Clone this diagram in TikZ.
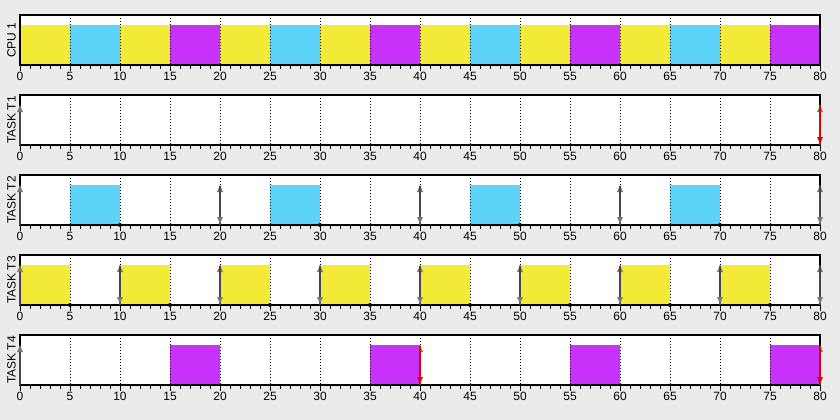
\documentclass[tikz,border=0pt]{standalone}
\usepackage{fontspec}
\setmainfont{Liberation Sans}
\usetikzlibrary{arrows.meta}
\definecolor{bg}{RGB}{235,235,235}
\definecolor{ty}{RGB}{242,234,54}
\definecolor{tb}{RGB}{94,211,250}
\definecolor{tp}{RGB}{200,50,250}
\definecolor{arrline}{RGB}{70,70,70}
\definecolor{arrhead}{RGB}{120,120,120}
\definecolor{miss}{RGB}{225,0,0}
\tikzset{
  panel/.style={draw=black,line width=1.2pt},
  gridline/.style={black,line width=0.9pt,dash pattern=on 1pt off 2pt},
  tickline/.style={black,line width=0.9pt},
  ticklabel/.style={font=\fontsize{12}{12}\selectfont,inner sep=0pt},
  rowlabel/.style={font=\fontsize{12}{12}\selectfont,rotate=90,inner sep=0pt},
  relarrow/.style={arrline,line width=1.8pt,-{Latex[length=8pt,width=6.5pt,color=arrhead]}},
  dlarrow/.style={arrline,line width=1.8pt,-{Latex[length=8pt,width=6.5pt,color=arrhead]}},
  missarrow/.style={miss,line width=1.8pt,-{Latex[length=8pt,width=6.5pt,color=miss]}},
  donedot/.style={fill=black},
}
\begin{document}
\begin{tikzpicture}[x=1pt,y=-1pt]
\fill[bg] (0,0) rectangle (840,420);
\useasboundingbox (0,0) rectangle (840,420);
% panels
\foreach \k/\lab in {0/CPU 1,1/TASK T1,2/TASK T2,3/TASK T3,4/TASK T4}{
  \pgfmathsetmacro\ptop{15+80*\k}
  \pgfmathsetmacro\pbot{65+80*\k}
  \fill[white] (20,\ptop) rectangle (820,\pbot);
  \node[rowlabel] (lab\k) at (11.5,{40+80*\k}) {\lab};
}
% CPU bars
\foreach \j in {0,1,2,3}{
  \fill[ty] ({20+200*\j},25) rectangle ({70+200*\j},65);
  \fill[tb] ({70+200*\j},25) rectangle ({120+200*\j},65);
  \fill[ty] ({120+200*\j},25) rectangle ({170+200*\j},65);
  \fill[tp] ({170+200*\j},25) rectangle ({220+200*\j},65);
}
% T2 bars
\foreach \j in {0,1,2,3}{
  \fill[tb] ({70+200*\j},185) rectangle ({120+200*\j},225);
}
% T3 bars
\foreach \j in {0,...,7}{
  \fill[ty] ({20+100*\j},265) rectangle ({70+100*\j},305);
}
% T4 bars
\foreach \j in {0,1,2,3}{
  \fill[tp] ({170+200*\j},345) rectangle ({220+200*\j},385);
}
% grid, borders, ticks, labels
\foreach \k in {0,...,4}{
  \pgfmathsetmacro\ptop{15+80*\k}
  \pgfmathsetmacro\pbot{65+80*\k}
  \foreach \t in {5,10,...,75}{
    \draw[gridline] ({20+10*\t},\ptop) -- ({20+10*\t},\pbot);
  }
  \draw[panel] (20,\ptop) rectangle (820,\pbot);
  \foreach \t in {0,...,80}{
    \draw[tickline] ({20+10*\t},\pbot) -- ({20+10*\t},\pbot+4);
  }
  \foreach \t in {0,5,...,80}{
    \draw[tickline] ({20+10*\t},\pbot) -- ({20+10*\t},\pbot+5.5);
    \node[ticklabel] (tl\k-\t) at ({20+10*\t},\pbot+11.5) {\t};
  }
}
% T1 arrows
\draw[relarrow] (20,145) -- (20,104);
\draw[relarrow] (820,145) -- (820,104);
\draw[missarrow] (820,105) -- (820,145);
% T2 arrows and dots
\draw[relarrow] (20,225) -- (20,184);
\foreach \t in {20,40,60,80}{
  \draw[relarrow] ({20+10*\t},225) -- ({20+10*\t},184);
  \draw[dlarrow] ({20+10*\t},186) -- ({20+10*\t},225);
}
\foreach \t in {10,30,50,70}{
  \fill[donedot] ({20+10*\t},225) circle (2pt);
}
% T3 arrows and dots
\draw[relarrow] (20,305) -- (20,264);
\foreach \t in {10,20,...,80}{
  \draw[relarrow] ({20+10*\t},305) -- ({20+10*\t},264);
  \draw[dlarrow] ({20+10*\t},266) -- ({20+10*\t},305);
}
\foreach \t in {5,15,...,75}{
  \fill[donedot] ({20+10*\t},305) circle (2pt);
}
% T4 arrows
\draw[relarrow] (20,385) -- (20,344);
\foreach \t in {40,80}{
  \draw[relarrow] ({20+10*\t},385) -- ({20+10*\t},344);
  \draw[missarrow] ({20+10*\t},346) -- ({20+10*\t},385);
}
\end{tikzpicture}
\end{document}
